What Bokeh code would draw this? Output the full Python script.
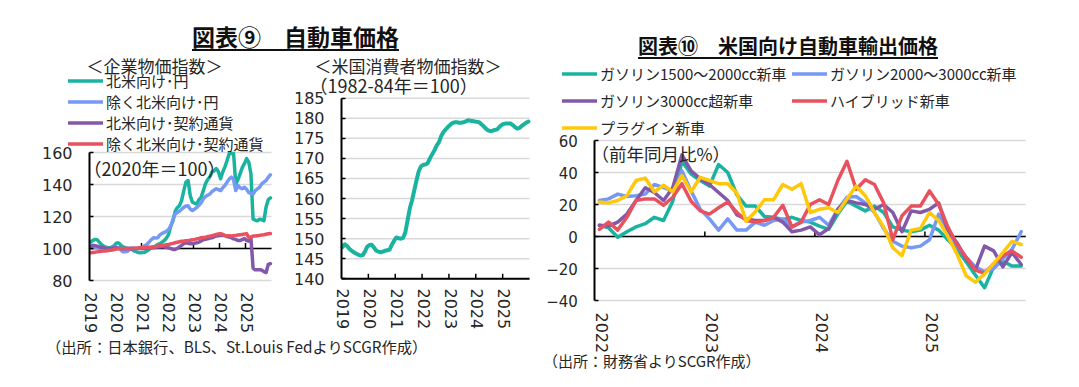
from bokeh.plotting import figure
from bokeh.models import (Label, Legend, LegendItem, FixedTicker, Div, Range1d,
                          Spacer, CustomJSTickFormatter)
from bokeh.layouts import row, column
from bokeh.embed import file_html
from bokeh.resources import INLINE

FONT = "Noto Sans CJK JP"
NUMFONT = "DejaVu Sans"
TXT = "#262626"
TEAL = "#19B3A0"
BLUE = "#7699F6"
PURPLE = "#8259A8"
RED = "#E9515F"
YELLOW = "#FFC80A"
GRID = "#D9D9D9"

# ---------------- data ----------------
cgpi_years = [2019, 2020, 2021, 2022, 2023, 2024, 2025]
cgpi_yticks = [80, 100, 120, 140, 160]
cgpi_labels = ["北米向け･円", "除く北米向け･円", "北米向け･契約通貨", "除く北米向け･契約通貨"]
# monthly, Jan 2019 - Dec 2025 (2020=100)
cgpi_na_yen = [104, 105, 105.7, 105.5, 104, 102.5, 101.5, 100.8, 100.5, 100.4, 101, 102,
               103.5, 103.5, 102, 101, 100.5, 100.2, 100, 99.5, 98.5, 98, 97.5, 97.3,
               97.5, 97.7, 98.5, 99.4, 100.5, 101, 101.5, 102.5, 103, 104, 105, 106.5,
               108.8, 114, 117.3, 123, 125.5, 126.7, 129.9, 136, 141.5, 142.5, 133, 129,
               128.3, 127.8, 130.5, 132, 136, 140.4, 143, 144.6, 147.8, 148.5, 150, 148,
               143.6, 147.8, 151, 155, 159.4, 159.4, 159.4, 140.4, 143, 146.7, 150.5, 153,
               156.2, 154, 146.7, 118.3, 117.8, 117.3, 118.3, 118, 117.3, 126, 130.5, 131.6]
cgpi_exna_yen = [100.4, 100.6, 100.8, 100.6, 100.3, 100, 99.8, 99.6, 99.4, 99.8, 100.3, 100.8,
                 100.6, 100.4, 99, 97.9, 98, 98.3, 99.3, 100.4, 100.2, 100, 100.2, 100.4,
                 100.8, 101.8, 102.5, 104, 105.5, 106.7, 106.5, 106.7, 108.5, 109.5, 110, 110.8,
                 112, 114, 118, 121.5, 122.5, 123.3, 124.5, 125.7, 126.5, 126.7, 124.6, 123.8,
                 124.5, 125.7, 127, 128.5, 131, 132.5, 133.3, 134, 135.5, 136.5, 137.3, 136.8,
                 136.2, 138, 139.4, 141.5, 143.5, 144.6, 143, 136.2, 139.4, 138, 137.3, 138.3,
                 137, 135, 134.5, 134, 136.2, 137.3, 138.3, 140.4, 141.5, 142.5, 144.5, 146.1]
cgpi_na_contract = [101.5, 102, 101.8, 101.5, 101, 100.8, 100.5, 100.2, 100, 100, 100.2, 100.5,
                    100.5, 100.3, 100, 99.8, 99.8, 100, 100, 99.8, 99.9, 100, 100, 100,
                    100, 100, 100.2, 100.4, 100.6, 100.5, 100.8, 101, 101, 101.2, 101, 100.8,
                    100.4, 100, 99.4, 99.4, 100, 101, 102, 103, 103.6, 103.3, 103, 103,
                    103.3, 103.6, 104, 104.7, 105.5, 105.7, 106, 106.5, 106.7, 107.2, 107.8, 108,
                    108.2, 108.2, 108, 107.5, 107.2, 106.8, 106, 105.7, 105, 105, 105.5, 106.3,
                    105, 104.6, 106.7, 87.8, 86.7, 86.7, 86.7, 86.5, 85.5, 85, 90, 90.5]
cgpi_exna_contract = [97.3, 97.5, 97.7, 97.9, 98.1, 98.3, 98.4, 98.5, 98.7, 98.9, 99.1, 99.4,
                      99.6, 99.8, 100, 100, 100, 100, 100, 100, 100.1, 100.2, 100.3, 100.4,
                      100.5, 100.6, 100.7, 100.8, 100.8, 101, 101.2, 101.5, 101.7, 101.9, 102.1, 102.3,
                      102.5, 102.9, 103.2, 103.6, 103.9, 104.2, 104.6, 104.7, 104.9, 105, 105.2, 105.5,
                      105.7, 106, 106.3, 106.7, 106.9, 107.1, 107.4, 107.7, 108, 108.4, 108.8, 109.1,
                      109.3, 108.8, 108.2, 108, 107.9, 107.8, 108, 108.2, 108.4, 108.6, 108.8, 109,
                      109.3, 106.7, 107.3, 107.8, 107.8, 108, 108.2, 108.4, 108.6, 108.9, 109.2, 109.3]

# US CPI new vehicles (1982-84=100), monthly Jan 2019 - Dec 2025
cpi_yticks = [140, 145, 150, 155, 160, 165, 170, 175, 180, 185]
cpi_new_vehicles = [147.9, 148.6, 148.2, 147.5, 147, 146.6, 146.3, 146, 145.8, 145.9, 146.8, 148,
                    148.4, 148.5, 147.8, 147, 146.8, 146.6, 146.8, 147, 147.1, 147.3, 148.5, 149.5,
                    150.3, 150.1, 150, 150.2, 151.5, 154.5, 157.5, 159.5, 162, 164.5, 166.8, 168,
                    168.4, 168.5, 168.8, 170, 171, 172, 173.2, 174, 175.5, 176.5, 177.2, 177.8,
                    178.3, 178.8, 179, 179, 178.9, 178.9, 179, 179.2, 179.5, 179.4, 179.3, 179.2,
                    179.1, 179, 178.5, 178, 177.4, 177, 176.8, 176.9, 177.1, 177.2, 177.8, 178.3,
                    178.6, 178.7, 178.7, 178.7, 178.3, 177.8, 177.4, 177.6, 178.1, 178.5, 178.9, 179.2]

# Export prices to the US, y/y %, monthly Jan 2022 - Nov 2025
exp_years = [2022, 2023, 2024, 2025]
exp_yticks = [-40, -20, 0, 20, 40, 60]
exp_labels = ["ガソリン1500～2000cc新車", "ガソリン2000～3000cc新車", "ガソリン3000cc超新車",
              "ハイブリッド新車", "プラグイン新車"]
exp_gas_1500 = [7, 5.5, -0.5, 3, 6, 8, 12, 10, 22, 47, 39, 35, 31.5, 45, 40, 26, 19, 19, 12.5, 12,
                10.5, 12, 10, 9, 6.5, 4.5, 14, 22, 19, 16, 19, 15, 6, 4, 3, 4, 7, 4, -2, -8,
                -16, -24, -32, -19, -15.5, -18.5, -18.5]
exp_gas_2000 = [22.5, 23.5, 26.5, 25, 25.5, 26.5, 32.5, 30.5, 28.5, 41, 28.5, 17, 11, 4, 11, 4, 4, 9, 7, 10,
                11, 6, 9, 10, 12, 7, 17, 24.5, 25, 21, 15, 5, -3, -6, -7, -6, -2, 14, 4, -6,
                -13, -19, -22, -20, -14, -8, 3]
exp_gas_3000 = [7, 6.5, 9, 14, 22.5, 30.5, 27.5, 22.5, 30.5, 51, 41, 36, 32.5, 27.5, 22.5, 13.5, 11, 10, 10, 12,
                9, 3, 4, 6, 1, 5, 17, 22.5, 21, 20, 17, 20, 15, 3, 16, 15, 17, 21, 4, -4,
                -14, -21, -6, -9, -19, -10, -17.5]
exp_hybrid = [4.5, 9, 4, 12, 22.5, 23.5, 23.5, 19.5, 24.5, 33, 22, 16, 14, 18, 21.5, 15, 10, 9, 10, 12,
              19.5, 6, 9, 20, 23, 20, 35, 47, 29.5, 35.5, 32.5, 21, -2, 13, 19, 19, 28.5, 20, 6, -5,
              -13, -21, -23, -17, -12, -9, -13]
exp_plugin = [21.5, 21, 22.5, 25.5, 35, 36.5, 28, 32, 28, 38, 28, 37, 35, 33, 33, 27, 9.5, 15.5, 23, 23,
              32.5, 29.5, 33, 15, 17, 18, 15, 23.5, 31.5, 25.5, 15, 6, -7, -12, 4, 5, 15, 10, 0, -11,
              -24.5, -28.5, -23.5, -17, -10, -3, -5]


def months(start_year, n):
    return [start_year + (i + 0.5) / 12 for i in range(n)]


YEAR_FMT = CustomJSTickFormatter(code="return Math.floor(tick + 1e-6).toString()")


def make_fig(w, h, bottom, xr, span, yr, xticks, xshift, yticks, ylab_size, standoff):
    """Frame covers the canvas above the x labels; the value axis sits at span[0]."""
    p = figure(width=w, height=h, output_backend="svg", toolbar_location=None, title=None,
               x_range=Range1d(*xr), y_range=Range1d(*yr),
               min_border_left=0, min_border_right=0, min_border_top=0, min_border_bottom=bottom)
    p.margin = (0, 0, 0, 0)
    p.outline_line_color = None
    p.background_fill_color = None
    p.border_fill_color = None
    p.xgrid.visible = False
    p.ygrid.visible = False
    yax = p.yaxis[0]
    yax.fixed_location = span[0]
    yax.bounds = (yticks[0], yticks[-1])
    yax.ticker = FixedTicker(ticks=yticks)
    yax.axis_line_color = "black"
    yax.axis_line_width = 2
    yax.major_tick_in = 4
    yax.major_tick_out = 0
    yax.major_tick_line_width = 1.5
    yax.minor_tick_line_color = None
    yax.major_label_text_font = NUMFONT
    yax.major_label_text_font_size = ylab_size
    yax.major_label_text_color = TXT
    yax.major_label_standoff = 17
    xax = p.xaxis[0]
    xax.ticker = FixedTicker(ticks=[t + xshift for t in xticks])
    xax.formatter = YEAR_FMT
    xax.minor_tick_line_color = None
    xax.minor_tick_out = 0
    xax.axis_line_color = None
    xax.major_tick_line_color = None
    xax.major_tick_out = 0
    xax.major_tick_in = 0
    xax.major_label_text_font = NUMFONT
    xax.major_label_text_font_size = "16px"
    xax.major_label_text_color = TXT
    xax.major_label_orientation = "vertical"
    xax.major_label_standoff = standoff
    # horizontal gridlines between the value axis and the end of the period
    p.segment(x0=[span[0]] * len(yticks), y0=yticks, x1=[span[1]] * len(yticks), y1=yticks,
              line_color=GRID, line_width=1.5)
    return p


def add_legend(p, items, x, y, spacing, label_height):
    p.add_layout(Legend(items=items, location=(x, y), orientation="vertical",
                        label_text_font=FONT, label_text_font_size="15px", label_text_color=TXT,
                        glyph_width=35, glyph_height=label_height, label_height=label_height,
                        label_standoff=3, spacing=spacing, padding=0, margin=0,
                        border_line_color=None, background_fill_alpha=0))


def add_label(p, text, x, y, size="17px"):
    p.add_layout(Label(x=x, y=y, x_units="screen", y_units="screen", text=text,
                       text_font=FONT, text_font_size=size, text_color=TXT,
                       text_baseline="middle", text_align="left"))


# ---------------- figure A: CGPI ----------------
# canvas: page x 8..295, y 50..338 ; frame bottom y 288 ; 80 at y 280 ; 2019 at x 89
A_PX_YR, A_PX_UNIT = 26.0, 1.6
a_y0 = 80 - 8 / A_PX_UNIT
pa = make_fig(287, 288, 50,
              (2019 - 81 / A_PX_YR, 2019 + 206 / A_PX_YR), (2019, 2026),
              (a_y0, a_y0 + 238 / A_PX_UNIT), cgpi_years, 0.06, cgpi_yticks, "16px", 4)
pa.segment(x0=[2019], y0=[100], x1=[2026], y1=[100], line_color="black", line_width=1.5)
pa.segment(x0=cgpi_years[1:], y0=[100] * 6, x1=cgpi_years[1:], y1=[103.5] * 6,
           line_color="black", line_width=1.5)
xa = months(2019, len(cgpi_na_yen))
ra = []
for ys, c in zip([cgpi_na_yen, cgpi_exna_yen, cgpi_na_contract, cgpi_exna_contract],
                 [TEAL, BLUE, PURPLE, RED]):
    ra.append(pa.line(xa, ys, line_color=c, line_width=3.5, line_join="round", line_cap="round"))
items_a = [LegendItem(label=l, renderers=[r]) for l, r in zip(cgpi_labels, ra)]
add_legend(pa, items_a[:1], 60, 197, 0, 19)
add_legend(pa, items_a[1:], 60, 134, -1, 19)
add_label(pa, "＜企業物価指数＞", 78, 223)
add_label(pa, "（2020年＝100）", 75, 121, "18px")

# ---------------- figure B: US CPI ----------------
# canvas: page x 295..545, y 50..338 ; 2019 at x 341 ; 140 at y 278.3, 185 at y 97.7 ; frame bottom 288
B_PX_YR, B_PX_UNIT = 26.86, 180.6 / 45
b_y0 = 140 - (288 - 278.3) / B_PX_UNIT
pb = make_fig(250, 288, 50,
              (2019 - 46 / B_PX_YR, 2019 + 204 / B_PX_YR), (2019, 2026),
              (b_y0, b_y0 + 238 / B_PX_UNIT), cgpi_years, 0.06, cpi_yticks, "16px", 0)
pb.segment(x0=[2019], y0=[140], x1=[2026], y1=[140], line_color="black", line_width=2)
pb.segment(x0=cgpi_years[1:], y0=[140] * 6, x1=cgpi_years[1:], y1=[140 + 5 / B_PX_UNIT] * 6,
           line_color="black", line_width=1.5)
xb = months(2019, len(cpi_new_vehicles))
pb.line(xb, cpi_new_vehicles, line_color=TEAL, line_width=4, line_join="round", line_cap="round")
add_label(pb, "＜米国消費者物価指数＞", 19, 223)
add_label(pb, "（1982-84年＝100）", 14, 204, "18px")

# ---------------- figure C: export prices ----------------
# canvas: page x 545..1071, y 57..358 ; -40 at y 300 ; frame bottom 308 ; 2022 at x 594.3
C_PX_YR, C_PX_UNIT = 110.04, 1.6
c_end = 2022 + len(exp_gas_1500) / 12
c_y0 = -40 - 8 / C_PX_UNIT
pc = make_fig(526, 301, 50,
              (2022 - 49.3 / C_PX_YR, 2022 + 476.7 / C_PX_YR), (2022, c_end),
              (c_y0, c_y0 + 251 / C_PX_UNIT), exp_years, 0.065, exp_yticks, "15px", 4)
pc.segment(x0=[2022], y0=[0], x1=[c_end], y1=[0], line_color="black", line_width=1.5)
pc.segment(x0=exp_years[1:], y0=[0] * 3, x1=exp_years[1:], y1=[3.2] * 3,
           line_color="black", line_width=1.5)
xc = months(2022, len(exp_gas_1500))
rc = []
for ys, c in zip([exp_gas_1500, exp_gas_2000, exp_gas_3000, exp_hybrid, exp_plugin],
                 [TEAL, BLUE, PURPLE, RED, YELLOW]):
    rc.append(pc.line(xc, ys, line_color=c, line_width=3.5, line_join="round", line_cap="round"))
add_legend(pc, [LegendItem(label=exp_labels[i], renderers=[rc[i]]) for i in (0, 2, 4)], 17, 170, 6, 21)
add_legend(pc, [LegendItem(label=exp_labels[i], renderers=[rc[i]]) for i in (1, 3)], 247, 197, 6, 21)
add_label(pc, "（前年同月比%）", 46, 155, "17.5px")


# ---------------- HTML texts (titles, sources) ----------------
def box(w, h, parts):
    return Div(width=w, height=h, margin=(0, 0, 0, 0),
               text=f'<div style="position:relative;width:{w}px;height:{h}px;overflow:visible;">{"".join(parts)}</div>')


def txt(text, left, top, size, lh, extra=""):
    return (f'<div style="position:absolute;left:{left}px;top:{top}px;font-family:\'Noto Sans CJK JP\';'
            f'font-size:{size}px;line-height:{lh}px;white-space:nowrap;color:#262626;{extra}">{text}</div>')


UL = "font-weight:bold;color:#111;text-decoration:underline;text-decoration-thickness:2px;text-underline-offset:3px;"
head_left = box(537, 42, [txt("図表⑨　自動車価格", 184, 15, 23, 27, UL)])
head_right = box(526, 49, [txt("図表⑩　米国向け自動車輸出価格", 93, 26, 20, 24, UL)])
src_left = box(537, 41, [txt("（出所：日本銀行、BLS、St.Louis FedよりSCGR作成）", 38, -1, 15.3, 18)])
src_right = box(526, 21, [txt("（出所：財務省よりSCGR作成）", -2, -5, 15, 16)])

left_block = column(head_left, row(pa, pb, spacing=0), src_left, spacing=0)
right_block = column(head_right, pc, src_right, spacing=0)
layout = column(Spacer(height=8, width=1071),
                row(Spacer(width=8, height=371), left_block, right_block, spacing=0),
                spacing=0)

open("out.html", "w").write(file_html(layout, INLINE))
